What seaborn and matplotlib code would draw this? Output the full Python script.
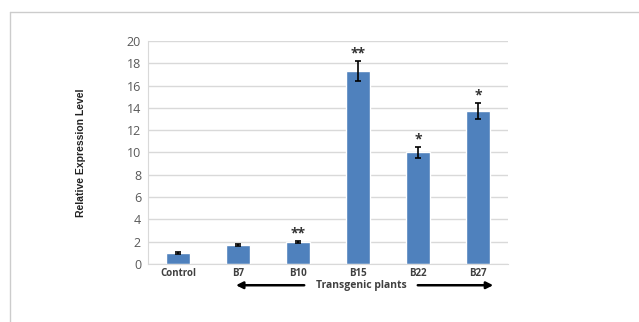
import matplotlib
matplotlib.use("Agg")
import matplotlib.pyplot as plt
import seaborn as sns
import pandas as pd
from matplotlib.lines import Line2D

groups = ["Control", "B7", "B10", "B15", "B22", "B27"]
expression = [1.0, 1.7, 2.0, 17.3, 10.0, 13.7]
errors = [0.08, 0.08, 0.08, 0.9, 0.5, 0.7]
stars = ["", "", "**", "**", "*", "*"]

df = pd.DataFrame({"group": groups, "level": expression})

sns.set_style("white")
plt.rcParams['font.family'] = ['Open Sans', 'DejaVu Sans']

fig = plt.figure(figsize=(6.39, 3.22), dpi=100)
ax = fig.add_axes([0.2316, 0.180, 0.5634, 0.693])

sns.barplot(data=df, x="group", y="level", color="#4F81BD", width=0.4,
            saturation=1, ax=ax, zorder=2)
ax.errorbar(range(len(groups)), expression, yerr=errors, fmt="none",
            ecolor="black", elinewidth=1.2, capsize=2, capthick=1.2, zorder=3)

# significance stars above error bars
for i, s in enumerate(stars):
    if s:
        ax.text(i, expression[i] + errors[i] + 0.05, s, ha="center", va="bottom",
                fontsize=10, fontweight="bold", color="#333333")

ax.set_xlim(-0.5, 5.5)
ax.set_ylim(0, 20)
ax.set_yticks(range(0, 21, 2))
ax.yaxis.grid(True, color="#d9d9d9", lw=1)
ax.set_axisbelow(True)
for side in ["top", "right"]:
    ax.spines[side].set_visible(False)
ax.spines["left"].set_color("#d9d9d9")
ax.spines["bottom"].set_color("#d9d9d9")
ax.tick_params(axis="y", length=3, color="#d9d9d9", labelsize=9, labelcolor="#595959", pad=2)
ax.tick_params(axis="x", length=0, labelsize=7, pad=3)
for lab in ax.get_xticklabels():
    lab.set_fontweight("bold")
    lab.set_color("#404040")
ax.set_xlabel("")
ax.set_ylabel("Relative Expression Level", fontsize=7.5, fontweight="bold",
              family=["Liberation Sans", "DejaVu Sans"], color="#222222")
ax.yaxis.set_label_coords(-0.172, 0.5)

# arrow for transgenic plants
ax.annotate("", xy=(0.92, -1.9), xytext=(2.15, -1.9), xycoords="data",
            arrowprops=dict(arrowstyle="-|>", color="black", lw=1.8, mutation_scale=10),
            annotation_clip=False)
ax.annotate("", xy=(5.3, -1.9), xytext=(3.95, -1.9), xycoords="data",
            arrowprops=dict(arrowstyle="-|>", color="black", lw=1.8, mutation_scale=10),
            annotation_clip=False)
ax.text(3.05, -1.9, "Transgenic plants", ha="center", va="center", fontsize=7.5,
        fontweight="bold", color="#404040", clip_on=False)

# frame lines of the cropped figure
fig.add_artist(Line2D([10/639, 1], [1 - 12/322, 1 - 12/322], color="#cccccc", lw=1))
fig.add_artist(Line2D([10/639, 10/639], [0, 1 - 12/322], color="#cccccc", lw=1))

fig.savefig("out.png", dpi=100)
